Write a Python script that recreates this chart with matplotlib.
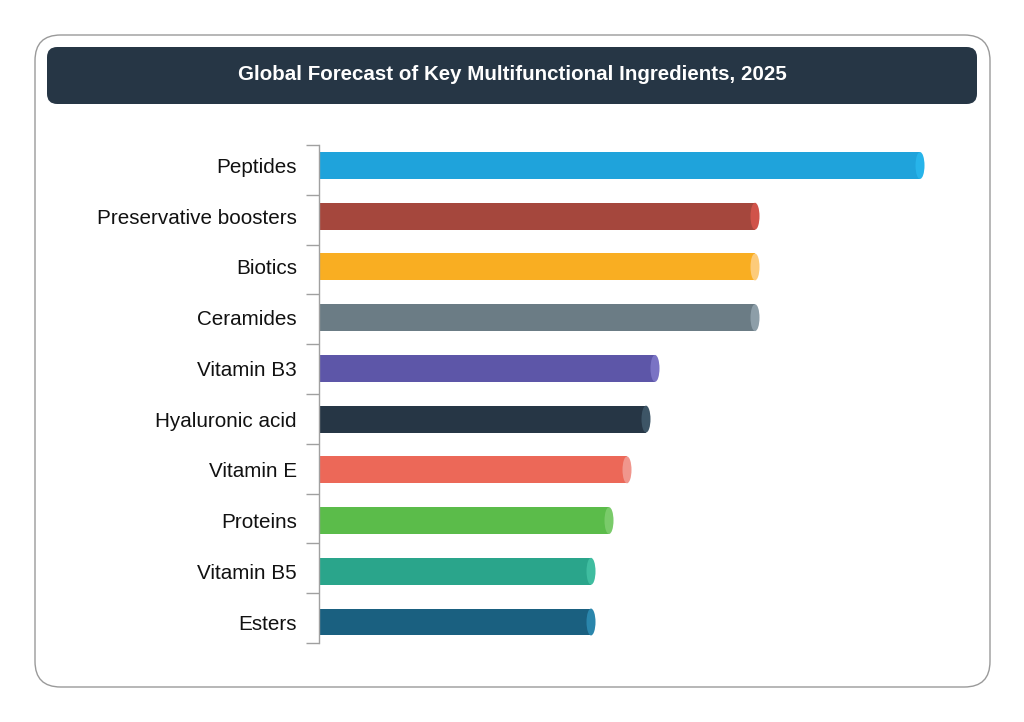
import matplotlib
matplotlib.use("Agg")
import matplotlib.pyplot as plt
from matplotlib.patches import FancyBboxPatch, Ellipse
import numpy as np

plt.rcParams['font.family'] = ['Liberation Sans', 'DejaVu Sans']

categories = ["Peptides", "Preservative boosters", "Biotics", "Ceramides", "Vitamin B3",
              "Hyaluronic acid", "Vitamin E", "Proteins", "Vitamin B5", "Esters"]
values = [60.1, 43.6, 43.6, 43.6, 33.6, 32.7, 30.8, 29.0, 27.2, 27.2]
colors = ["#1FA3DB", "#A5473D", "#F9AE22", "#6B7C85", "#5D56A8",
          "#263645", "#EC6858", "#5BBC4A", "#2AA58B", "#1A6080"]
cap_colors = ["#27B4EA", "#D0534A", "#FDCB7A", "#8D9EA8", "#7A73C4",
              "#3D5566", "#F0968D", "#7ACB6A", "#3FBDA0", "#2A86AC"]
title = "Global Forecast of Key Multifunctional Ingredients, 2025"

W, H = 1024, 722
fig = plt.figure(figsize=(W/100, H/100), dpi=100)

# outer rounded frame
frame = FancyBboxPatch((35/W, 1-687/H), (990-35)/W, (687-35)/H,
                       boxstyle="round,pad=0,rounding_size=0.025",
                       transform=fig.transFigure, facecolor="none",
                       edgecolor="#9A9A9A", linewidth=1.0, mutation_aspect=W/H,
                       zorder=-1)
fig.patches.append(frame)

# title box
tb = FancyBboxPatch((47/W, 1-104/H), (977-47)/W, (104-47)/H,
                    boxstyle="round,pad=0,rounding_size=0.01",
                    transform=fig.transFigure, facecolor="#263645",
                    edgecolor="none", mutation_aspect=W/H, zorder=-1)
fig.patches.append(tb)
fig.text(512/W, 1-75/H, title, color="white", fontsize=14.8, fontweight="bold",
         ha="center", va="center")

ax_left, ax_right = 319, 959
ax_top, ax_bot = 145, 643
ax = fig.add_axes([ax_left/W, 1-ax_bot/H, (ax_right-ax_left)/W, (ax_bot-ax_top)/H])
ax.patch.set_alpha(0)
xmax = 64.0
ax.set_xlim(0, xmax)
n = len(categories)
y0, y1 = -0.404, n - 1 + 0.414
ax.set_ylim(y1, y0)
y = np.arange(n)
bh = 0.53
ax.barh(y, values, height=bh, color=colors, zorder=2)

px_per_unit = (ax_right-ax_left)/xmax
ew = 9/px_per_unit
for yi, v, cc in zip(y, values, cap_colors):
    ax.add_patch(Ellipse((v, yi), ew, bh, facecolor=cc, edgecolor="none", zorder=3))

for s in ["top", "right", "bottom"]:
    ax.spines[s].set_visible(False)
ax.spines["left"].set_color("#A0A0A0")
ax.spines["left"].set_linewidth(1.0)
ax.set_xticks([])
ax.set_yticks(y)
ax.set_yticklabels(categories, fontsize=14.9, color="#111111")
ax.tick_params(axis="y", which="major", length=0, pad=16)
ax.set_yticks(np.linspace(y0, y1, n+1), minor=True)
ax.tick_params(axis="y", which="minor", length=9.5, color="#A0A0A0", width=1.0)

fig.savefig("out.png", dpi=100)
